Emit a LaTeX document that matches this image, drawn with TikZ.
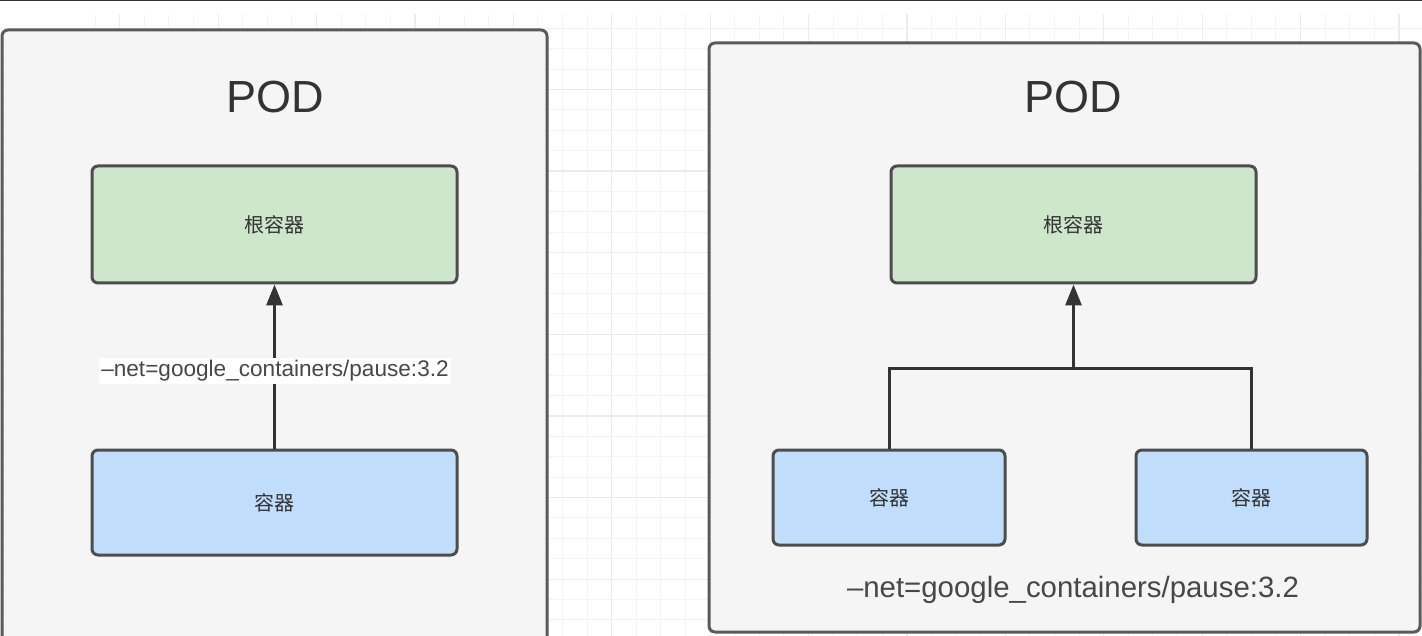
\documentclass[tikz,border=0pt]{standalone}
\usepackage{fontspec}
\setmainfont{Liberation Sans}
\newfontfamily\cjk{Noto Sans CJK SC}
\usetikzlibrary{arrows.meta}
\definecolor{podfill}{HTML}{F5F5F5}
\definecolor{podline}{HTML}{5A5A5A}
\definecolor{boxline}{HTML}{4D4D4D}
\definecolor{greenfill}{HTML}{CDE6CC}
\definecolor{bluefill}{HTML}{C0DEFB}
\definecolor{txt}{HTML}{333333}
\definecolor{gridminor}{HTML}{F4F4F4}
\definecolor{gridmajor}{HTML}{EBEBEB}
\tikzset{
  podbox/.style={draw=podline, fill=podfill, line width=3pt, rounded corners=6pt, inner sep=0pt},
  greenbox/.style={draw=boxline, fill=greenfill, line width=3pt, rounded corners=6pt, inner sep=0pt,
    minimum width=365pt, minimum height=117pt, font=\cjk\fontsize{20}{24}\selectfont, text=txt},
  bluebox/.style={draw=boxline, fill=bluefill, line width=3pt, rounded corners=6pt, inner sep=0pt,
    font=\cjk\fontsize{20}{24}\selectfont, text=txt},
  podtitle/.style={font=\fontsize{45}{50}\selectfont, text=txt, inner sep=0pt},
  netlabel/.style={text=txt!90!white, inner sep=2pt},
  link/.style={draw=txt, line width=3pt},
  arrowlink/.style={link, -{Triangle[length=21pt,width=16pt]}}
}
\begin{document}
\begin{tikzpicture}[x=1pt,y=-1pt]
\useasboundingbox (0,0) rectangle (1422,636);
\clip (0,0) rectangle (1422,636);
\fill[white] (0,0) rectangle (1422,636);
% background grid
\foreach \i in {-21,...,37} {
  \pgfmathsetmacro{\gx}{611.7+24.6*\i}
  \pgfmathtruncatemacro{\m}{mod(\i+84,4)}
  \ifnum\m=0
    \draw[gridmajor, line width=1.2pt] (\gx,14) -- (\gx,636);
  \else
    \draw[gridminor, line width=1pt] (\gx,14) -- (\gx,636);
  \fi
}
\foreach \j in {0,...,31} {
  \pgfmathsetmacro{\gy}{28.3+20.4*\j}
  \pgfmathtruncatemacro{\m}{mod(\j+1,4)}
  \ifnum\m=0
    \draw[gridmajor, line width=1.2pt] (0,\gy) -- (1422,\gy);
  \else
    \draw[gridminor, line width=1pt] (0,\gy) -- (1422,\gy);
  \fi
}
\draw[txt, line width=2pt] (0,0.5) -- (1422,0.5);
% pods
\node[podbox, minimum width=545pt, minimum height=650pt] (podL) at (274.5,355) {};
\node[podbox, minimum width=711pt, minimum height=589pt] (podR) at (1064.5,337.5) {};
\node[podtitle] (titleL) at (275,97) {POD};
\node[podtitle] (titleR) at (1073,97) {POD};
% left pod
\node[greenbox] (gL) at (274.5,224.5) {根容器};
\node[bluebox, minimum width=365pt, minimum height=105pt] (bL) at (274.5,502.5) {容器};
\draw[arrowlink] (bL.north) -- (gL.south);
\node[netlabel, fill=white, font=\fontsize{22.6}{26}\selectfont] (netL) at (275,371) {–net=google\_containers/pause:3.2};
% right pod
\node[greenbox] (gR) at (1073.5,224.5) {根容器};
\node[bluebox, minimum width=232pt, minimum height=95pt] (bR1) at (889,497.5) {容器};
\node[bluebox, minimum width=231pt, minimum height=95pt] (bR2) at (1251.5,497.5) {容器};
\coordinate (jR) at (1073.5,368);
\draw[link] (bR1.north) |- (jR) -| (bR2.north);
\draw[arrowlink] (jR) -- (gR.south);
\node[netlabel, font=\fontsize{29.4}{34}\selectfont] (netR) at (1073,590) {–net=google\_containers/pause:3.2};
\end{tikzpicture}
\end{document}
